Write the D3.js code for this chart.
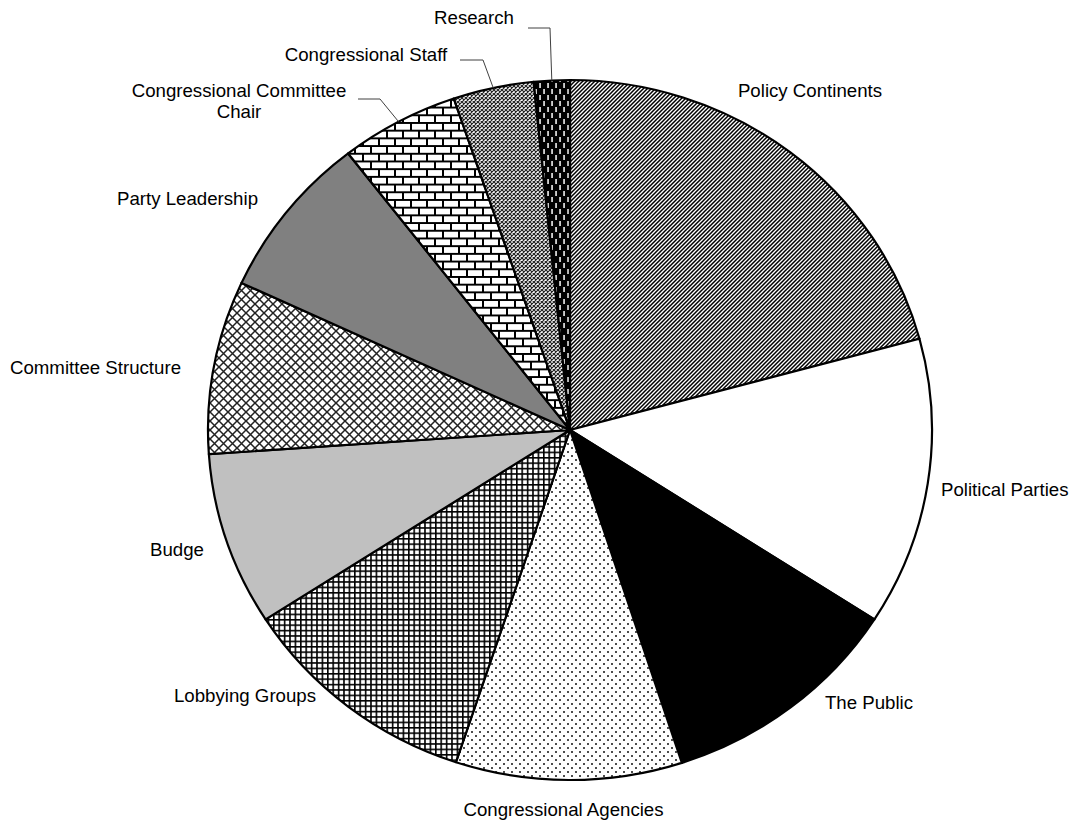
<!DOCTYPE html>
<html>
<head>
<meta charset="utf-8">
<script src="https://cdn.jsdelivr.net/npm/d3@7"></script>
<style>
  html, body { margin: 0; padding: 0; background: #fff; }
  svg { display: block; }
  text { font-family: "Liberation Sans", Arial, sans-serif; font-size: 18.67px; fill: #000; }
</style>
</head>
<body>
<svg id="chart" width="1070" height="821"></svg>
<script>
// ---- data ----
const categories = ["Policy Continents", "Political Parties", "The Public", "Congressional Agencies",
  "Lobbying Groups", "Budge", "Committee Structure", "Party Leadership",
  "Congressional Committee Chair", "Congressional Staff", "Research"];
const values = [20.8, 13.3, 10.9, 10.1, 10.8, 8.0, 8.0, 7.6, 5.3, 3.6, 1.6];
const labelText = [["Policy Continents"], ["Political Parties"], ["The Public"], ["Congressional Agencies"],
  ["Lobbying Groups"], ["Budge"], ["Committee Structure"], ["Party Leadership"],
  ["Congressional Committee", "Chair"], ["Congressional Staff"], ["Research"]];
const fills = ["url(#pDiag)", "#ffffff", "#000000", "url(#pDots)", "url(#pGrid)", "#c0c0c0",
  "url(#pCross)", "#808080", "url(#pBrick)", "url(#pFine)", "url(#pDash)"];

// ---- layout ----
const cx = 570, cy = 430, R = 362, Ry = 350;
const sy = Ry / R;
const labelLayout = [
  { x: 810, y: 97, anchor: "middle" },
  { x: 941, y: 496, anchor: "start" },
  { x: 869, y: 709, anchor: "middle" },
  { x: 563.5, y: 816, anchor: "middle" },
  { x: 245, y: 702, anchor: "middle" },
  { x: 177, y: 556, anchor: "middle" },
  { x: 95.5, y: 374, anchor: "middle" },
  { x: 187.5, y: 205, anchor: "middle" },
  { x: 239, y: 97, anchor: "middle" },
  { x: 366, y: 61, anchor: "middle" },
  { x: 474, y: 24, anchor: "middle" }
];
const leaderElbows = { 8: [[358, 99], [380, 99]], 9: [[460, 60], [483, 60]], 10: [[528, 28], [550, 28]] };

const svg = d3.select("#chart");
const defs = svg.append("defs");
const comp = `scale(1,${1 / sy})`;

function pattern(id, w, h) {
  return defs.append("pattern").attr("id", id).attr("patternUnits", "userSpaceOnUse")
    .attr("width", w).attr("height", h).attr("patternTransform", comp);
}
// diagonal lines
let p = pattern("pDiag", 4, 4);
p.append("rect").attr("width", 4).attr("height", 4).attr("fill", "#fff");
p.append("path").attr("d", "M-1,1 L1,-1 M0,4 L4,0 M3,5 L5,3").attr("stroke", "#000").attr("stroke-width", 1.5);
// dots
p = pattern("pDots", 8, 8);
p.append("rect").attr("width", 8).attr("height", 8).attr("fill", "#fff");
p.append("circle").attr("cx", 2).attr("cy", 2).attr("r", 1).attr("fill", "#111");
p.append("circle").attr("cx", 6).attr("cy", 6).attr("r", 1).attr("fill", "#111");
// grid
p = pattern("pGrid", 5.4, 5.4);
p.append("rect").attr("width", 5.4).attr("height", 5.4).attr("fill", "#fff");
p.append("path").attr("d", "M0,0.8 H5.4 M0.8,0 V5.4").attr("stroke", "#000").attr("stroke-width", 1.6);
// diagonal crosshatch
p = pattern("pCross", 9, 9);
p.append("rect").attr("width", 9).attr("height", 9).attr("fill", "#fff");
p.append("path").attr("d", "M0,0 L9,9 M9,0 L0,9").attr("stroke", "#222").attr("stroke-width", 1.5);
// bricks
p = pattern("pBrick", 16, 15.4);
p.append("rect").attr("width", 16).attr("height", 15.4).attr("fill", "#fff");
p.append("path").attr("d", "M0,1 H16 M0,8.7 H16 M1,0 V7.7 M9,7.7 V15.4").attr("stroke", "#000").attr("stroke-width", 2);
// fine check
p = pattern("pFine", 4, 4);
p.append("rect").attr("width", 4).attr("height", 4).attr("fill", "#fff");
p.append("path").attr("d", "M0,0 L4,4 M4,0 L0,4").attr("stroke", "#222").attr("stroke-width", 1.2);
// black with white dashes
p = pattern("pDash", 8, 12);
p.append("rect").attr("width", 8).attr("height", 12).attr("fill", "#000");
p.append("rect").attr("x", 1.3).attr("y", 1).attr("width", 1.5).attr("height", 5).attr("fill", "#fff");
p.append("rect").attr("x", 5.3).attr("y", 7).attr("width", 1.5).attr("height", 5).attr("fill", "#fff");

// ---- pie ----
const pie = d3.pie().sort(null).value(d => d).startAngle(0).endAngle(2 * Math.PI);
const arcs = pie(values);
const arc = d3.arc().innerRadius(0).outerRadius(R);

const g = svg.append("g").attr("transform", `translate(${cx},${cy}) scale(1,${sy})`);
g.selectAll("path.slice").data(arcs).join("path")
  .attr("class", "slice")
  .attr("d", arc)
  .attr("fill", (d, i) => fills[i])
  .attr("stroke", "#000")
  .attr("stroke-width", 2.2)
  .attr("stroke-linejoin", "round")
  .attr("vector-effect", "non-scaling-stroke");

// ---- leader lines ----
function edgePoint(d) {
  const a = (d.startAngle + d.endAngle) / 2;
  return [cx + R * Math.sin(a), cy - Ry * Math.cos(a)];
}
Object.keys(leaderElbows).forEach(k => {
  const i = +k;
  const pts = leaderElbows[k].concat([edgePoint(arcs[i])]);
  svg.append("path")
    .attr("d", d3.line()(pts))
    .attr("fill", "none")
    .attr("stroke", "#404040")
    .attr("stroke-width", 1);
});

// ---- labels ----
arcs.forEach((d, i) => {
  const L = labelLayout[i];
  const t = svg.append("text").attr("x", L.x).attr("y", L.y).attr("text-anchor", L.anchor);
  labelText[i].forEach((line, j) => {
    t.append("tspan").attr("x", L.x).attr("dy", j === 0 ? 0 : 21).text(line);
  });
});
</script>
</body>
</html>
